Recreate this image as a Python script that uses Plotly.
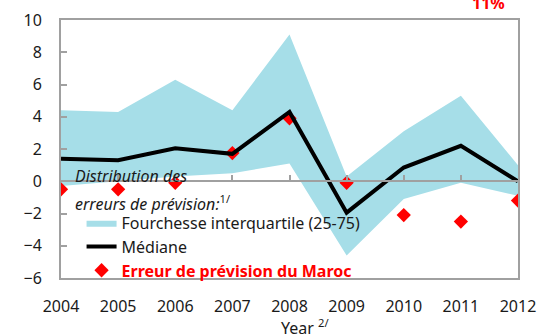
import plotly.graph_objects as go

years = [2004, 2005, 2006, 2007, 2008, 2009, 2010, 2011, 2012]
q75 = [4.4, 4.3, 6.3, 4.4, 9.1, 0.3, 3.1, 5.3, 1.0]
q25 = [-0.3, 0.0, 0.3, 0.5, 1.1, -4.6, -1.1, -0.1, -0.9]
median = [1.4, 1.3, 2.05, 1.7, 4.3, -1.95, 0.85, 2.2, 0.0]
maroc = [-0.5, -0.5, -0.1, 1.75, 3.9, -0.1, -2.1, -2.5, -1.2]
y_ticks = [-6, -4, -2, 0, 2, 4, 6, 8, 10]

FONT = "Noto Sans"
GRAY = "#a0a0a0"

fig = go.Figure()

# interquartile band as a closed polygon
fig.add_trace(go.Scatter(
    x=years + years[::-1], y=q75 + q25[::-1],
    fill="toself", fillcolor="#A6DEE8", line=dict(width=0),
    mode="lines", name="Fourchesse interquartile (25-75)", hoverinfo="skip",
))
fig.add_trace(go.Scatter(
    x=years, y=median, mode="lines", line=dict(color="black", width=4),
    name="Médiane", xaxis="x2",
))
fig.add_trace(go.Scatter(
    x=years, y=maroc, mode="markers",
    marker=dict(symbol="diamond", color="#FF0000", size=11, line=dict(width=0)),
    name="<b><span style='color:#FF0000'>Erreur de prévision du Maroc</span></b>",
))

fig.update_layout(
    width=537, height=336,
    margin=dict(l=61, r=19, t=20, b=58, autoexpand=False),
    plot_bgcolor="white", paper_bgcolor="white",
    font=dict(family=FONT, size=16, color="#1a1a1a"),
    showlegend=True,
    legend=dict(
        x=0.045, y=0.28, xanchor="left", yanchor="top",
        bgcolor="rgba(0,0,0,0)", font=dict(family=FONT, size=16),
        tracegroupgap=0, itemwidth=30,
    ),
    xaxis=dict(
        range=[2004, 2012], tickvals=years, ticks="", showgrid=False,
        zeroline=False, showline=True, linecolor=GRAY, linewidth=2, mirror=True,
        ticklabelstandoff=13, automargin=False,
    ),
    xaxis2=dict(
        range=[2004, 2012], tickvals=years, overlaying="x", anchor="free",
        position=0.375, ticks="inside", ticklen=5, tickcolor=GRAY, tickwidth=1.5,
        showticklabels=False, showgrid=False, zeroline=False,
        showline=True, linecolor=GRAY, linewidth=2, automargin=False,
    ),
    yaxis=dict(
        range=[-6, 10], tickvals=y_ticks, ticks="inside", ticklen=6,
        tickcolor=GRAY, tickwidth=1.5, showgrid=False, zeroline=False,
        showline=True, linecolor=GRAY, linewidth=2, mirror=True,
        ticklabelstandoff=14, automargin=False,
    ),
)

# x-axis title, slightly right of centre
fig.add_annotation(
    text="Year <sup>2/</sup>", xref="paper", yref="paper",
    x=0.534, y=-0.136, xanchor="center", yanchor="top", showarrow=False,
    font=dict(family=FONT, size=16),
)
# legend heading
fig.add_annotation(
    text="<i>Distribution des</i>", xref="paper", yref="paper",
    x=0.026, y=0.447, xanchor="left", yanchor="top", showarrow=False,
    font=dict(family=FONT, size=16),
)
fig.add_annotation(
    text="<i>erreurs de prévision:</i><sup>1/</sup>", xref="paper", yref="paper",
    x=0.026, y=0.346, xanchor="left", yanchor="top", showarrow=False,
    font=dict(family=FONT, size=16),
)
fig.add_annotation(
    text="<b>11%</b>", xref="paper", yref="paper",
    x=0.935, y=1.015, xanchor="center", yanchor="bottom", showarrow=False,
    font=dict(family=FONT, size=16, color="#FF0000"),
)

fig.write_html("out.html")
